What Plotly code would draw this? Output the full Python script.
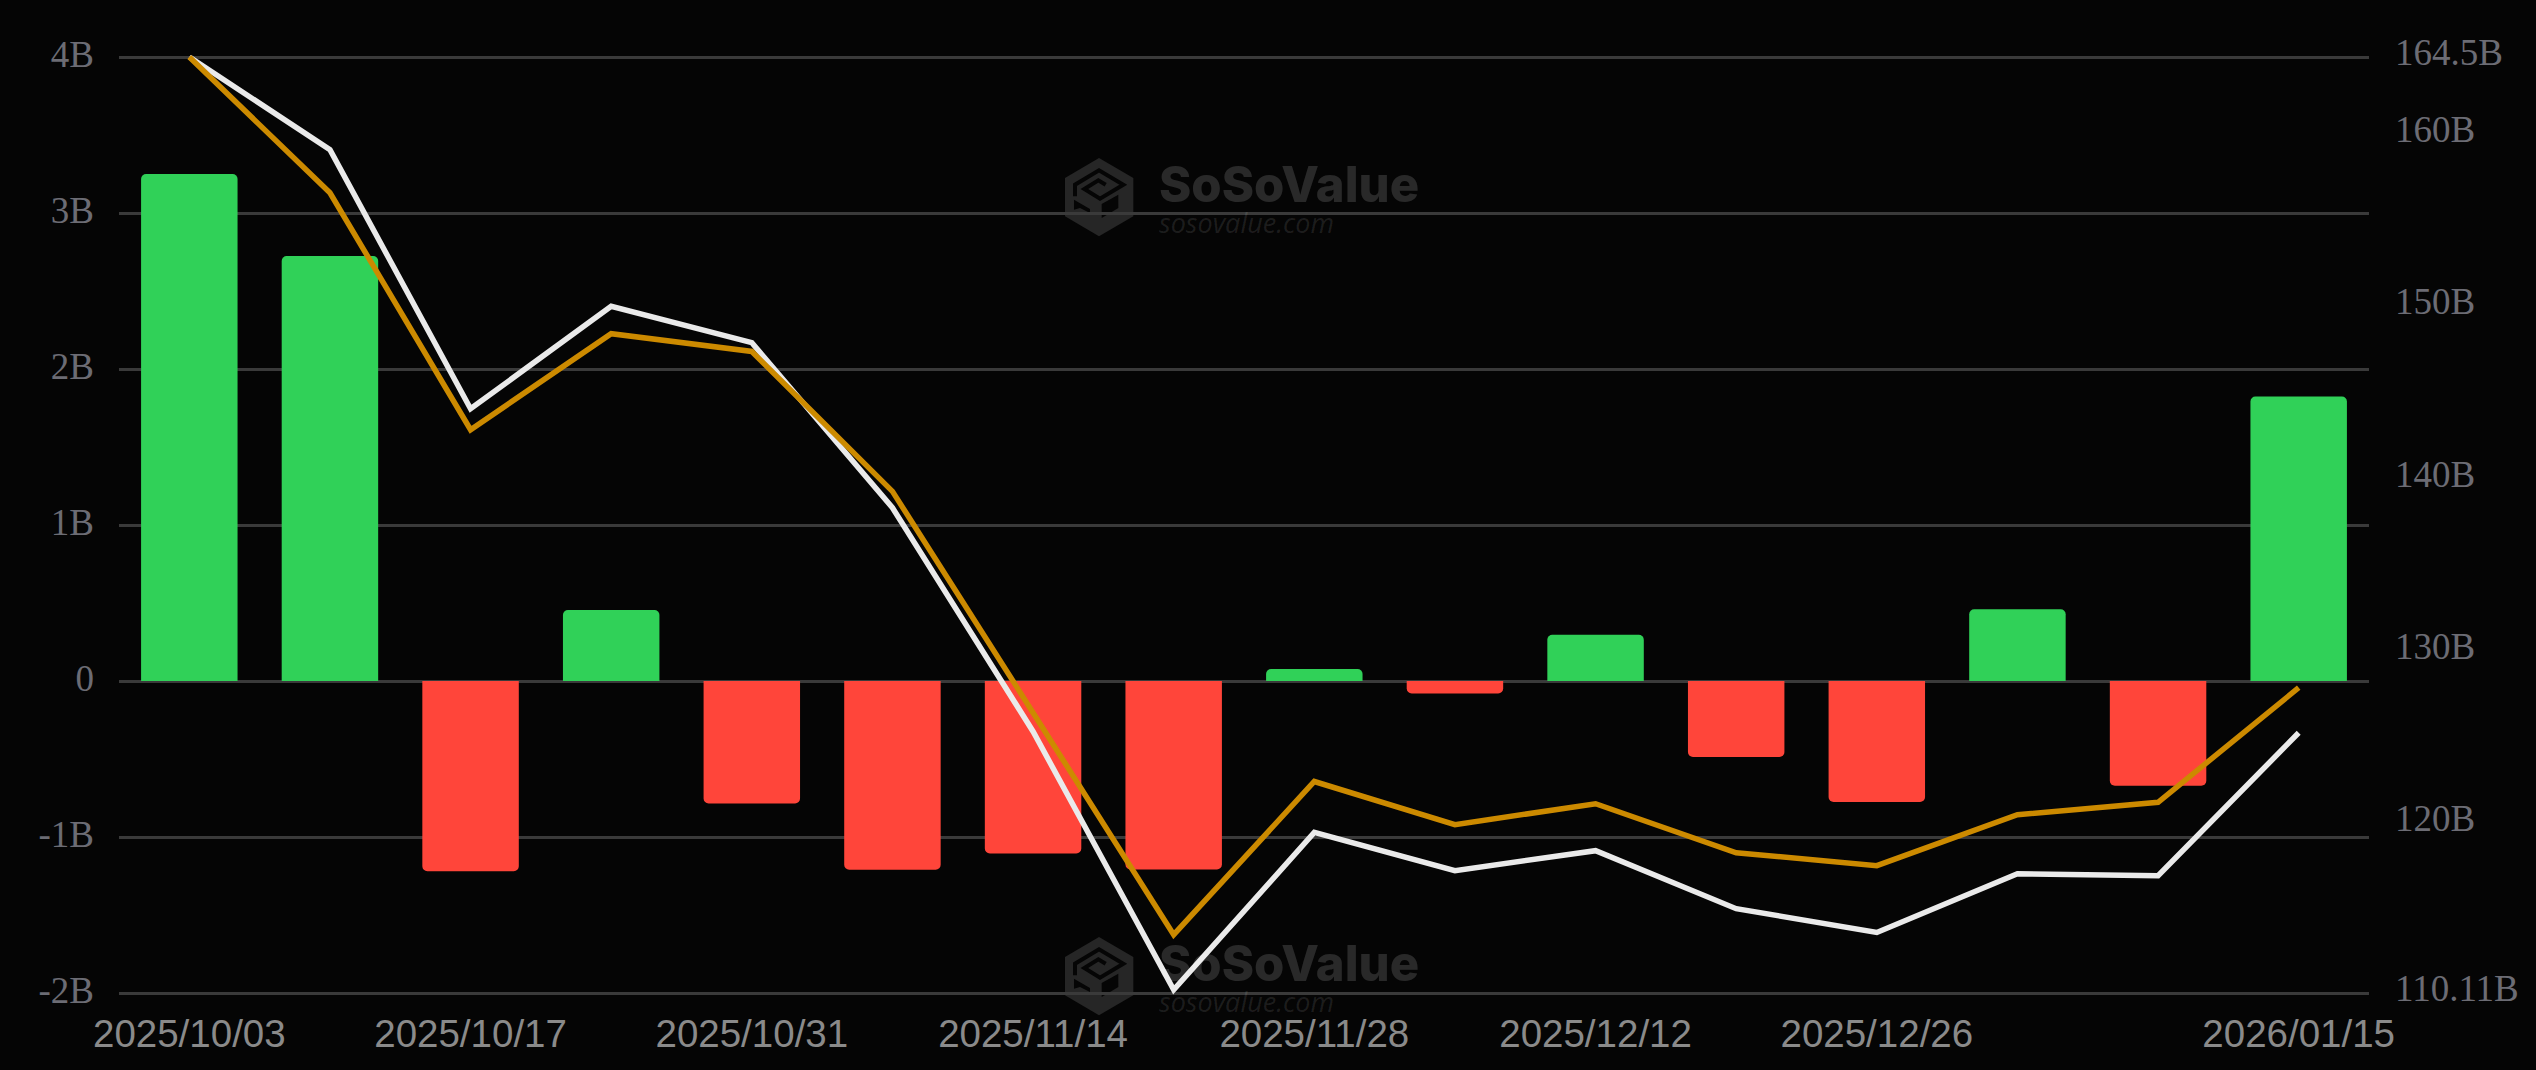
import plotly.graph_objects as go

dates = ["2025/10/03", "2025/10/10", "2025/10/17", "2025/10/24", "2025/10/31", "2025/11/07",
         "2025/11/14", "2025/11/21", "2025/11/28", "2025/12/05", "2025/12/12", "2025/12/19",
         "2025/12/26", "2026/01/02", "2026/01/09", "2026/01/15"]
flows = [3.25, 2.724, -1.22, 0.455, -0.785, -1.21, -1.105, -1.208, 0.077, -0.08, 0.297,
         -0.487, -0.776, 0.46, -0.671, 1.824]
white_line = [164.5, 159.11, 144.06, 150.01, 147.90, 138.31, 125.31, 110.3, 119.44, 117.22,
              118.38, 115.01, 113.63, 117.04, 116.93, 125.23]
orange_line = [164.5, 156.61, 142.84, 148.42, 147.39, 139.26, 126.40, 113.50, 122.40, 119.89,
               121.11, 118.26, 117.51, 120.47, 121.19, 127.85]

x_ticks = ["2025/10/03", "2025/10/17", "2025/10/31", "2025/11/14", "2025/11/28", "2025/12/12",
           "2025/12/26", "2026/01/15"]
left_ticks = [-2, -1, 0, 1, 2, 3, 4]
left_labels = ["-2B", "-1B", "0", "1B", "2B", "3B", "4B"]
right_ticks = [110.11, 120, 130, 140, 150, 160, 164.5]
right_labels = ["110.11B", "120B", "130B", "140B", "150B", "160B", "164.5B"]

W, H = 2536, 1070
L, R, T, B = 119, 2369, 55.3, 995.3
BG = "#050505"
GREEN, RED = "#30D158", "#FF453A"
WM = "#262626"
TICK = "#6C6C74"


def px(x):
    return (x - L) / (R - L)


def py(y):
    return (B - y) / (B - T)


def logo_path(points, ox, oy, close=True):
    # points are in a 270x285 logo box, three units to a pixel
    cmds = [("M" if i == 0 else "L") + f"{px(ox + a / 3):.5f},{py(oy + b / 3):.5f}"
            for i, (a, b) in enumerate(points)]
    return " ".join(cmds) + (" Z" if close else "")


HEX = [(132, 25), (235, 85), (235, 200), (132, 260), (30, 200), (30, 85)]
S_CUT = [(60, 140), (60, 105), (132, 62), (205, 105), (135, 147), (88, 118), (130, 92), (152, 105)]
RIGHT_CUT = [(140, 163), (190, 135), (190, 175), (140, 205)]
LEFT_CUT = [(57, 150), (105, 178), (105, 190), (75, 175), (57, 180)]

shapes, annotations = [], []
for oy in (150, 929):
    ox = 1055
    shapes.append(dict(type="path", xref="paper", yref="paper", layer="below",
                       path=logo_path(HEX, ox, oy), fillcolor=WM, line_width=0))
    shapes.append(dict(type="path", xref="paper", yref="paper", layer="below",
                       path=logo_path(S_CUT, ox, oy, close=False), fillcolor="rgba(0,0,0,0)",
                       line=dict(color=BG, width=4)))
    for poly in (RIGHT_CUT, LEFT_CUT):
        shapes.append(dict(type="path", xref="paper", yref="paper", layer="below",
                           path=logo_path(poly, ox, oy), fillcolor=BG, line_width=0))
    annotations.append(dict(text="SoSoValue", xref="paper", yref="paper", showarrow=False,
                            x=px(1289), y=py(oy + 34.5), xanchor="center", yanchor="middle",
                            font=dict(family="Inter", size=49, weight=800,
                                      color="rgba(255,255,255,0.145)")))
    annotations.append(dict(text="<i>sosovalue.com</i>", xref="paper", yref="paper", showarrow=False,
                            x=px(1246), y=py(oy + 73), xanchor="center", yanchor="middle",
                            font=dict(family="Open Sans", size=27,
                                      color="rgba(255,255,255,0.1)")))

fig = go.Figure()
fig.add_trace(go.Bar(x=dates, y=flows, marker=dict(color=[GREEN if v >= 0 else RED for v in flows],
                                                   line_width=0, cornerradius=5),
                     showlegend=False, yaxis="y"))
fig.add_trace(go.Scatter(x=dates, y=white_line, mode="lines", yaxis="y2", showlegend=False,
                         line=dict(color="#EAEAEA", width=5.5)))
fig.add_trace(go.Scatter(x=dates, y=orange_line, mode="lines", yaxis="y2", showlegend=False,
                         line=dict(color="#CC8A00", width=5.5)))

fig.update_layout(
    width=W, height=H, autosize=False,
    paper_bgcolor=BG, plot_bgcolor=BG,
    margin=dict(l=L, r=W - R, t=T, b=H - B, pad=0),
    bargap=0.314,
    showlegend=False,
    shapes=shapes, annotations=annotations,
    xaxis=dict(type="category", categoryorder="array", categoryarray=dates,
               range=[-0.5, 15.5], tickmode="array", tickvals=x_ticks, ticktext=x_ticks,
               showgrid=False, zeroline=False, showline=False, ticks="", ticklen=0,
               tickangle=0, ticklabelstandoff=12,
               tickfont=dict(family="Liberation Sans", size=38.5, color="#8A8A8A")),
    yaxis=dict(range=[-2.0128, 4.0128], tickmode="array", tickvals=left_ticks, ticktext=left_labels,
               showgrid=True, gridcolor="#3A3A3A", gridwidth=3, zeroline=False, showline=False,
               ticks="", ticklabelstandoff=24,
               tickfont=dict(family="Liberation Serif", size=37, color=TICK)),
    yaxis2=dict(range=[109.994, 164.616], overlaying="y", side="right", tickmode="array",
                tickvals=right_ticks, ticktext=right_labels, showgrid=False, zeroline=False,
                showline=False, ticks="", ticklabelstandoff=25,
                tickfont=dict(family="Liberation Serif", size=37, color=TICK)),
)

NUDGE_LABELS = """
document.body.style.margin='0';
document.querySelectorAll('.ytick text').forEach(function(t){t.setAttribute('dy','-2.5');});
document.querySelectorAll('.y2tick text').forEach(function(t){t.setAttribute('dy','-5');});
"""
fig.write_html("out.html", post_script=NUDGE_LABELS, config={"displayModeBar": False})
